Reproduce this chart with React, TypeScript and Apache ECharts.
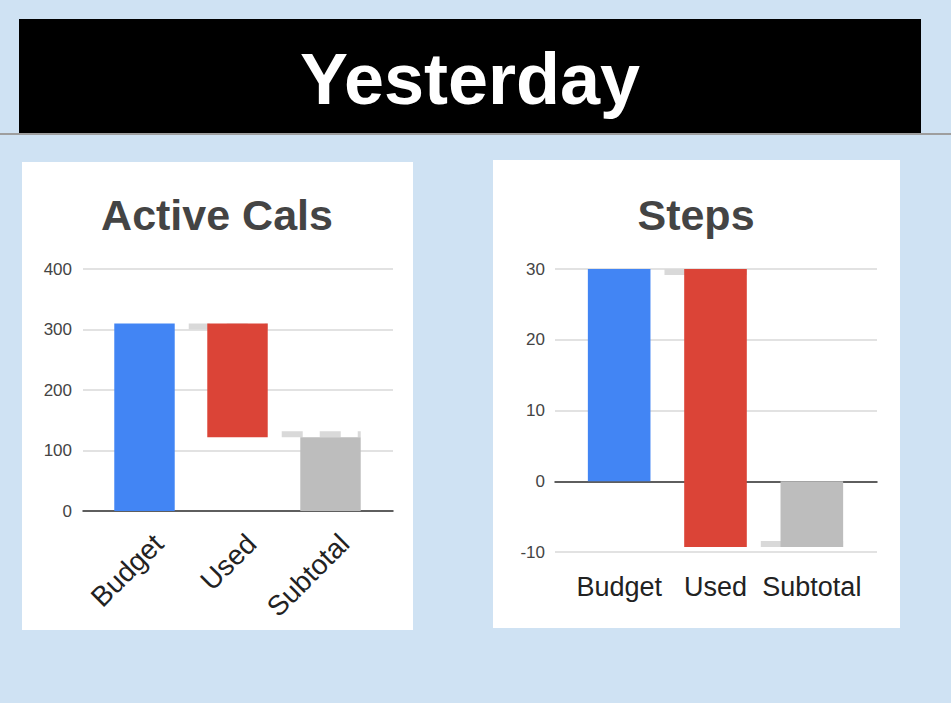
import { useEffect, useRef } from 'react';
import * as echarts from 'echarts';

const categories = ['Budget', 'Used', 'Subtotal'];
const barColors = ['#4285f4', '#db4437', '#bdbdbd'];

// Active Cals: budget, change used, subtotal
const calsChanges = [310, -188];
const calsTicks = [0, 100, 200, 300, 400];

// Steps
const stepsChanges = [30, -39.3];
const stepsTicks = [-10, 0, 10, 20, 30];

const FONT = '"Liberation Sans", Arial, sans-serif';

// [index, low, high] for each bar of a waterfall
const buildBars = (changes: number[]) => {
  const out: number[][] = [];
  let run = 0;
  changes.forEach((c, i) => {
    const next = run + c;
    out.push([i, Math.min(run, next), Math.max(run, next)]);
    run = next;
  });
  out.push([changes.length, Math.min(0, run), Math.max(0, run)]);
  return out;
};

// [index, level, side] connector from bar index-1 to bar index
const buildLinks = (changes: number[]) => {
  const out: number[][] = [];
  let run = 0;
  changes.forEach((c, i) => {
    run += c;
    // the line sits inside the bar it leaves
    out.push([i + 1, run, c >= 0 ? 1 : -1]);
  });
  return out;
};

const barSeries = (xIdx: number, yIdx: number, data: number[][]) => ({
  type: 'custom',
  xAxisIndex: xIdx,
  yAxisIndex: yIdx,
  z: 3,
  encode: { x: 0, y: [1, 2] },
  data,
  renderItem: (_p: any, api: any) => {
    const i = api.value(0);
    const top = api.coord([i, api.value(2)]);
    const bot = api.coord([i, api.value(1)]);
    const w = api.size([1, 0])[0] * 0.65;
    return {
      type: 'rect',
      shape: { x: top[0] - w / 2, y: top[1], width: w, height: bot[1] - top[1] },
      style: { fill: barColors[i] }
    };
  }
});

const linkSeries = (xIdx: number, yIdx: number, data: number[][]) => ({
  type: 'custom',
  xAxisIndex: xIdx,
  yAxisIndex: yIdx,
  z: 2,
  encode: { x: 0, y: 1 },
  data,
  renderItem: (_p: any, api: any) => {
    const i = api.value(0);
    const a = api.coord([i - 1, api.value(1)]);
    const b = api.coord([i, api.value(1)]);
    const w = api.size([1, 0])[0] * 0.65;
    const y = a[1] + api.value(2) * 3;
    return {
      type: 'line',
      shape: { x1: a[0] + w / 2, y1: y, x2: b[0] + w / 2, y2: y },
      style: { stroke: '#d9d9d9', lineWidth: 6, lineDash: [21, 17], lineDashOffset: 24 }
    };
  }
});

const App = () => {
  const chartRef = useRef<HTMLDivElement>(null);

  useEffect(() => {
    if (!chartRef.current) return;
    document.body.style.margin = '0';
    const chart = echarts.init(chartRef.current, null, { renderer: 'svg' });

    const calsBars = buildBars(calsChanges);
    const stepsBars = buildBars(stepsChanges);

    const yLabel = { color: '#444', fontSize: 17, fontFamily: FONT };
    const split = { lineStyle: { color: '#d9d9d9', width: 1.5 } };

    const option: any = {
      animation: false,
      backgroundColor: '#cfe2f3',
      textStyle: { fontFamily: FONT },
      graphic: [
        { type: 'rect', shape: { x: 0, y: 133, width: 951, height: 2 }, style: { fill: '#9e9e9e' } },
        { type: 'rect', shape: { x: 19, y: 19, width: 902, height: 114 }, style: { fill: '#000' } },
        {
          type: 'text', x: 470, y: 79,
          style: { text: 'Yesterday', fill: '#fff', font: `bold 72px ${FONT}`, textAlign: 'center', textVerticalAlign: 'middle' }
        },
        { type: 'rect', z: -1, shape: { x: 22, y: 162, width: 391, height: 468 }, style: { fill: '#fff' } },
        { type: 'rect', z: -1, shape: { x: 493, y: 160, width: 407, height: 468 }, style: { fill: '#fff' } },
        {
          type: 'text', x: 217, y: 215,
          style: { text: 'Active Cals', fill: '#444', font: `bold 43px ${FONT}`, textAlign: 'center', textVerticalAlign: 'middle' }
        },
        {
          type: 'text', x: 696, y: 215,
          style: { text: 'Steps', fill: '#444', font: `bold 43px ${FONT}`, textAlign: 'center', textVerticalAlign: 'middle' }
        }
      ],
      grid: [
        { left: 83, top: 269, width: 310, height: 242 },
        { left: 98, top: 269, width: 279, height: 242 },
        { left: 112, top: 269, width: 279, height: 242 },
        { left: 555, top: 269, width: 322, height: 283 },
        { left: 571, top: 269, width: 289, height: 283 }
      ],
      xAxis: [
        {
          gridIndex: 0, type: 'category', data: categories,
          axisLine: { lineStyle: { color: '#333', width: 1.5 } },
          axisTick: { show: false }, axisLabel: { show: false }
        },
        { gridIndex: 1, type: 'category', data: categories, show: false },
        {
          gridIndex: 2, type: 'category', data: categories,
          axisLine: { show: false }, axisTick: { show: false },
          axisLabel: { rotate: 45, margin: 28, color: '#222', fontSize: 28, fontFamily: FONT, interval: 0 }
        },
        {
          gridIndex: 3, type: 'category', data: categories,
          axisLine: { onZero: true, lineStyle: { color: '#333', width: 1.5 } },
          axisTick: { show: false }, axisLabel: { show: false }
        },
        {
          gridIndex: 4, type: 'category', data: categories,
          axisLine: { show: false, onZero: false }, axisTick: { show: false },
          axisLabel: { margin: 21, color: '#222', fontSize: 27, fontFamily: FONT, interval: 0 }
        }
      ],
      yAxis: [
        {
          gridIndex: 0, type: 'value', min: calsTicks[0], max: calsTicks[calsTicks.length - 1], interval: 100,
          axisLine: { show: false }, axisTick: { show: false },
          axisLabel: { ...yLabel, margin: 11 }, splitLine: split
        },
        { gridIndex: 1, type: 'value', min: calsTicks[0], max: calsTicks[calsTicks.length - 1], show: false, splitLine: { show: false } },
        { gridIndex: 2, type: 'value', min: calsTicks[0], max: calsTicks[calsTicks.length - 1], show: false, splitLine: { show: false } },
        {
          gridIndex: 3, type: 'value', min: stepsTicks[0], max: stepsTicks[stepsTicks.length - 1], interval: 10,
          axisLine: { show: false }, axisTick: { show: false },
          axisLabel: { ...yLabel, margin: 10 }, splitLine: split
        },
        { gridIndex: 4, type: 'value', min: stepsTicks[0], max: stepsTicks[stepsTicks.length - 1], show: false, splitLine: { show: false } }
      ],
      series: [
        linkSeries(1, 1, buildLinks(calsChanges)),
        barSeries(1, 1, calsBars),
        linkSeries(4, 4, buildLinks(stepsChanges)),
        barSeries(4, 4, stepsBars)
      ]
    };

    chart.setOption(option);
    return () => chart.dispose();
  }, []);

  return <div ref={chartRef} style={{ width: 951, height: 703 }} />;
};

export default App;
